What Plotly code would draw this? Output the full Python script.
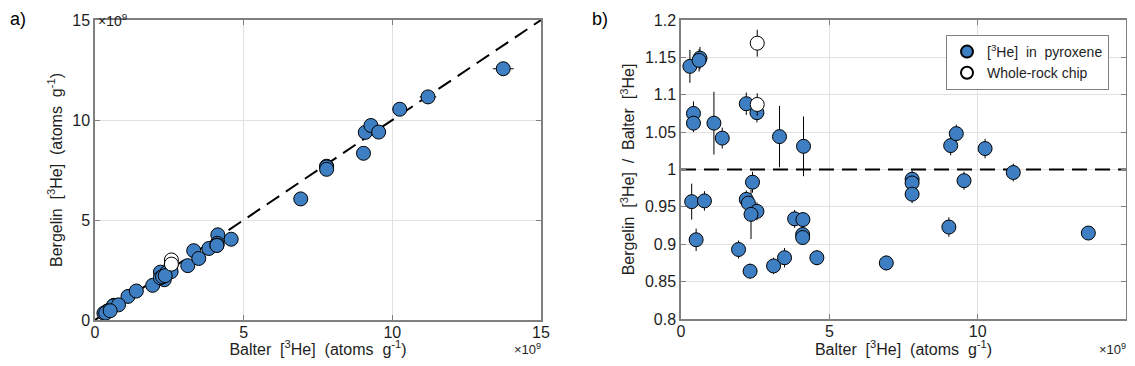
import plotly.graph_objects as go

# Balter [3He] in units of 1e9 atoms/g, ratio Bergelin/Balter and its 1-sigma error
px_balter = [0.30, 0.64, 0.61, 0.42, 0.42, 1.11, 1.39, 2.20, 2.56, 3.32, 4.13,
             0.36, 0.79, 0.51, 1.94, 2.33, 2.41, 2.20, 2.27, 2.56, 2.36, 3.12,
             3.49, 3.83, 4.11, 4.10, 4.10, 4.58, 6.92, 7.79, 7.79, 7.79, 9.03,
             9.09, 9.28, 9.54, 10.25, 11.20, 13.73]
px_ratio = [1.138, 1.149, 1.146, 1.075, 1.062, 1.062, 1.042, 1.088, 1.076, 1.044, 1.031,
            0.957, 0.958, 0.906, 0.893, 0.864, 0.983, 0.960, 0.955, 0.944, 0.940, 0.871,
            0.882, 0.934, 0.933, 0.913, 0.909, 0.882, 0.875, 0.987, 0.982, 0.967, 0.923,
            1.032, 1.048, 0.985, 1.028, 0.996, 0.915]
px_ratio_err = [0.022, 0.015, 0.015, 0.016, 0.012, 0.042, 0.014, 0.015, 0.013, 0.041, 0.040,
                0.024, 0.013, 0.015, 0.012, 0.010, 0.014, 0.012, 0.012, 0.012, 0.033, 0.011,
                0.013, 0.012, 0.010, 0.010, 0.010, 0.010, 0.010, 0.012, 0.010, 0.012, 0.013,
                0.013, 0.012, 0.012, 0.013, 0.012, 0.008]
px_balter_err = [0.01, 0.02, 0.02, 0.01, 0.01, 0.03, 0.04, 0.06, 0.06, 0.08, 0.10,
                 0.01, 0.02, 0.01, 0.05, 0.06, 0.06, 0.06, 0.06, 0.06, 0.06, 0.08,
                 0.09, 0.10, 0.10, 0.10, 0.10, 0.11, 0.17, 0.19, 0.19, 0.19, 0.22,
                 0.23, 0.23, 0.24, 0.26, 0.28, 0.35]

wr_balter = [2.57, 2.57]
wr_ratio = [1.169, 1.087]
wr_ratio_err = [0.018, 0.015]
wr_balter_err = [0.06, 0.06]

px_bergelin = [b * r for b, r in zip(px_balter, px_ratio)]
wr_bergelin = [b * r for b, r in zip(wr_balter, wr_ratio)]

one_to_one = [0, 15]
ref_ratio = [1, 1]

BLUE = "rgb(62,126,194)"
FONT = "Liberation Sans, Arial, sans-serif"
AX = "rgb(128,128,128)"
GRID = "rgb(225,225,225)"
TXT = "rgb(30,30,30)"
DASH = "15px,8px"

fig = go.Figure()

# left panel
fig.add_trace(go.Scatter(x=one_to_one, y=one_to_one, mode="lines",
                         line=dict(color="black", width=2, dash=DASH),
                         showlegend=False, xaxis="x", yaxis="y"))
fig.add_trace(go.Scatter(x=px_balter, y=px_bergelin, mode="markers",
                         error_x=dict(type="data", array=px_balter_err, color="black",
                                      thickness=1, width=0),
                         marker=dict(size=14, color=BLUE, line=dict(color="black", width=1)),
                         showlegend=False, xaxis="x", yaxis="y"))
fig.add_trace(go.Scatter(x=wr_balter, y=wr_bergelin, mode="markers",
                         error_x=dict(type="data", array=wr_balter_err, color="black",
                                      thickness=1, width=0),
                         marker=dict(size=14, color="white", line=dict(color="black", width=1)),
                         showlegend=False, xaxis="x", yaxis="y"))

# right panel
fig.add_trace(go.Scatter(x=one_to_one, y=ref_ratio, mode="lines",
                         line=dict(color="black", width=2, dash=DASH),
                         showlegend=False, xaxis="x2", yaxis="y2"))
fig.add_trace(go.Scatter(x=px_balter, y=px_ratio, mode="markers",
                         name="[<sup>3</sup>He]  in  pyroxene",
                         error_y=dict(type="data", array=px_ratio_err, color="black",
                                      thickness=1, width=0),
                         marker=dict(size=14, color=BLUE, line=dict(color="black", width=1)),
                         xaxis="x2", yaxis="y2"))
fig.add_trace(go.Scatter(x=wr_balter, y=wr_ratio, mode="markers",
                         name="Whole-rock chip",
                         error_y=dict(type="data", array=wr_ratio_err, color="black",
                                      thickness=1, width=0),
                         marker=dict(size=14, color="white", line=dict(color="black", width=1)),
                         xaxis="x2", yaxis="y2"))

# the page body has an 8px margin, so the figure is drawn 8px in from the window edge
OFF = 8
W, H = 1135 - 2 * OFF, 366 - 2 * OFF
def fx(p):
    return (p - OFF) / W
def fy(p):
    return 1 - (p - OFF) / H

axis_common = dict(showline=True, linecolor=AX, linewidth=1.5, mirror="ticks",
                   ticks="inside", ticklen=5, tickcolor=AX, showgrid=True,
                   gridcolor=GRID, gridwidth=1, zeroline=False, automargin=False,
                   tickfont=dict(family=FONT, size=16, color=TXT))

ytick_vals = [0.8, 0.85, 0.9, 0.95, 1.0, 1.05, 1.1, 1.15, 1.2]
ytick_text = ["0.8", "0.85", "0.9", "0.95", "1", "1.05", "1.1", "1.15", "1.2"]

xtitle = "Balter  [<sup>3</sup>He]  (atoms  g<sup>-1</sup>)"
fig.update_layout(
    width=W, height=H, margin=dict(l=0, r=0, t=0, b=0, autoexpand=False),
    paper_bgcolor="white", plot_bgcolor="white",
    font=dict(family=FONT, size=16, color=TXT),
    xaxis=dict(domain=[fx(95), fx(541)], range=[0, 15], tickvals=[0, 5, 10, 15],
               ticklabelstandoff=-3,
               title=dict(text=xtitle, font=dict(size=16), standoff=3), anchor="y",
               **axis_common),
    yaxis=dict(domain=[fy(320), fy(20)], range=[0, 15], tickvals=[0, 5, 10, 15],
               title=dict(text="Bergelin  [<sup>3</sup>He]  (atoms  g<sup>-1</sup>)",
                          font=dict(size=16), standoff=6), anchor="x",
               **axis_common),
    xaxis2=dict(domain=[fx(681), fx(1126)], range=[0, 15], tickvals=[0, 5, 10, 15],
                ticklabelstandoff=-3,
                title=dict(text=xtitle, font=dict(size=16), standoff=3), anchor="y2",
                **axis_common),
    yaxis2=dict(domain=[fy(319), fy(20)], range=[0.8, 1.2], tickvals=ytick_vals,
                ticktext=ytick_text,
                title=dict(text="Bergelin  [<sup>3</sup>He]  /  Balter  [<sup>3</sup>He]",
                           font=dict(size=16), standoff=6), anchor="x2",
                **axis_common),
    legend=dict(x=fx(1109), y=fy(35), xanchor="right", yanchor="top",
                bgcolor="white", bordercolor=AX, borderwidth=1,
                font=dict(family=FONT, size=14, color=TXT),
                itemsizing="constant", tracegroupgap=0),
    annotations=[
        dict(text="a)", x=0, y=fy(19), xref="paper", yref="paper", xanchor="left",
             yanchor="middle", showarrow=False, font=dict(size=18, color="black")),
        dict(text="b)", x=fx(590), y=fy(19), xref="paper", yref="paper", xanchor="left",
             yanchor="middle", showarrow=False, font=dict(size=18, color="black")),
        dict(text="×10<sup>9</sup>", x=fx(96), y=fy(9), xref="paper", yref="paper",
             xanchor="left", yanchor="top", showarrow=False, font=dict(size=14)),
        dict(text="×10<sup>9</sup>", x=fx(542), y=0, xref="paper", yref="paper",
             xanchor="right", yanchor="bottom", showarrow=False, borderpad=0,
             font=dict(size=13)),
        dict(text="×10<sup>9</sup>", x=fx(1127), y=0, xref="paper", yref="paper",
             xanchor="right", yanchor="bottom", showarrow=False, borderpad=0,
             font=dict(size=13)),
    ],
)

fig.write_html("out.html")
